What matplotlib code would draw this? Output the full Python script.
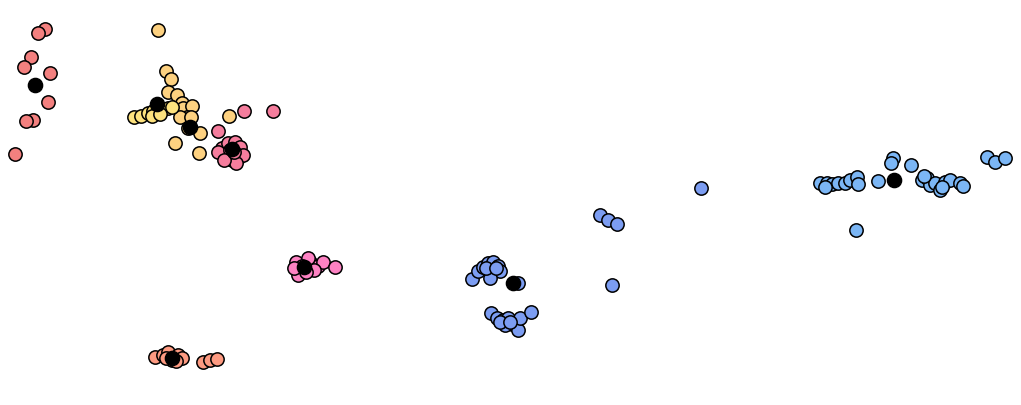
import matplotlib
matplotlib.use("Agg")
import matplotlib.pyplot as plt

# cluster points (x, y)
red_x = [45, 38, 31, 24, 50, 48, 33, 26, 15]
red_y = [29, 33, 57, 67, 73, 102, 120, 121, 154]

orange_x = [158, 166, 171, 168, 177, 182, 183, 192, 187, 180, 191, 200, 229, 175, 199, 188]
orange_y = [30, 71, 79, 92, 95, 103, 108, 106, 117, 117, 117, 133, 116, 143, 153, 128]

yellow_x = [134, 141, 148, 153, 158, 163, 168, 172, 152, 160]
yellow_y = [117, 116, 113, 111, 110, 109, 108, 107, 116, 114]

pink_x = [218, 244, 273, 222, 228, 235, 240, 226, 232, 238, 218, 230, 243, 236, 224, 234]
pink_y = [131, 111, 111, 148, 143, 142, 147, 155, 160, 158, 152, 150, 155, 163, 160, 152]

hotpink_x = [296, 300, 305, 310, 318, 323, 335, 298, 308, 302, 314, 294, 306]
hotpink_y = [262, 270, 268, 262, 266, 262, 267, 275, 258, 266, 270, 268, 272]

salmon_x = [155, 163, 168, 172, 178, 182, 203, 210, 217, 166, 176]
salmon_y = [357, 355, 352, 360, 355, 358, 362, 360, 359, 358, 361]

blue_x = [472, 478, 483, 488, 493, 498, 492, 500, 490, 486, 496,
          491, 497, 503, 508, 512, 518, 520, 531, 505, 500, 510,
          518, 600, 608, 617, 612, 701]
blue_y = [279, 271, 267, 263, 262, 266, 272, 271, 278, 268, 268,
          313, 318, 320, 318, 324, 330, 318, 312, 325, 322, 322,
          283, 215, 220, 224, 285, 188]

lblue_x = [820, 827, 832, 838, 845, 850, 857, 858, 878, 893, 891, 911,
           922, 927, 930, 935, 940, 945, 950, 960, 963, 987, 995, 1005,
           856, 825, 942, 924]
lblue_y = [183, 183, 184, 183, 183, 180, 177, 184, 181, 158, 163, 165,
           180, 178, 185, 183, 190, 182, 180, 183, 186, 157, 162, 158,
           230, 187, 187, 176]

cent_x = [35, 190, 157, 232, 304, 172, 513, 894]
cent_y = [85, 127, 104, 149, 267, 358, 283, 180]

groups = [
    (red_x, red_y, "#f3807f"),
    (orange_x, orange_y, "#fdd180"),
    (yellow_x, yellow_y, "#fde27e"),
    (pink_x, pink_y, "#f57d9d"),
    (hotpink_x, hotpink_y, "#fd82c3"),
    (salmon_x, salmon_y, "#fd9a81"),
    (blue_x, blue_y, "#7c9df2"),
    (lblue_x, lblue_y, "#7bb6f5"),
]

fig = plt.figure(figsize=(10.21, 4.05), dpi=100)
ax = fig.add_axes([0, 0, 1, 1])
for xs, ys, c in groups:
    ax.scatter(xs, ys, s=92, c=c, edgecolors="black", linewidths=1.1, zorder=2)
ax.scatter(cent_x, cent_y, s=105, c="black", edgecolors="black", linewidths=1.0, zorder=3)
ax.set_xlim(0, 1021)
ax.set_ylim(405, 0)
ax.axis("off")
fig.savefig("out.png", dpi=100)
